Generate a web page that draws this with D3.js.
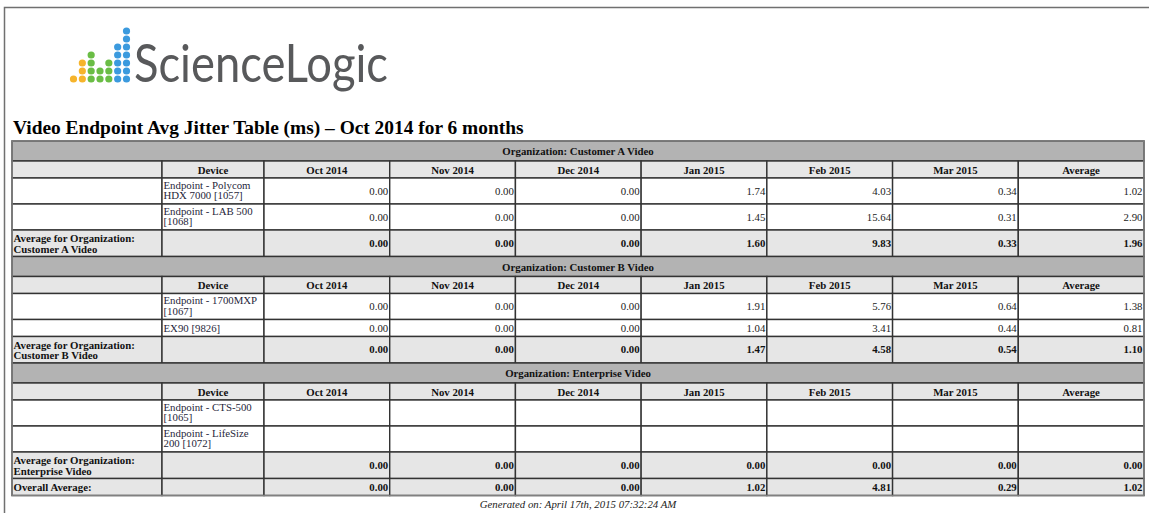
<!DOCTYPE html>
<meta charset="utf-8">
<style>
body { margin: 0; background: #fff; }
svg { display: block; font-family: "Liberation Serif", "Times New Roman", serif; }
</style>
<body>
<script src="https://cdn.jsdelivr.net/npm/d3@7/dist/d3.min.js"></script>
<script>
var width = 1149, height = 513;

// ---- data ----
var title = "Video Endpoint Avg Jitter Table (ms) \u2013 Oct 2014 for 6 months";
var months = ["Oct 2014", "Nov 2014", "Dec 2014", "Jan 2015", "Feb 2015", "Mar 2015"];
var columns = months.concat(["Average"]);
var orgs = ["Customer A Video", "Customer B Video", "Enterprise Video"];
var devices = [
  ["Endpoint - Polycom HDX 7000 [1057]", "Endpoint - LAB 500 [1068]"],
  ["Endpoint - 1700MXP [1067]", "EX90 [9826]"],
  ["Endpoint - CTS-500 [1065]", "Endpoint - LifeSize 200 [1072]"]
];
var deviceValues = [
  [[0, 0, 0, 1.74, 4.03, 0.34, 1.02], [0, 0, 0, 1.45, 15.64, 0.31, 2.90]],
  [[0, 0, 0, 1.91, 5.76, 0.64, 1.38], [0, 0, 0, 1.04, 3.41, 0.44, 0.81]],
  [[null, null, null, null, null, null, null], [null, null, null, null, null, null, null]]
];
var orgAverages = [
  [0, 0, 0, 1.60, 9.83, 0.33, 1.96],
  [0, 0, 0, 1.47, 4.58, 0.54, 1.10],
  [0, 0, 0, 0, 0, 0, 0]
];
var overallAverage = [0, 0, 0, 1.02, 4.81, 0.29, 1.02];
var generatedOn = "Generated on: April 17th, 2015 07:32:24 AM";
var logoName = "ScienceLogic";
var logoDots = [1, 3, 4, 2, 3, 5, 7];

var fmt = d3.format(".2f");

var svg = d3.select("body").append("svg")
    .attr("width", width)
    .attr("height", height);

// page frame
svg.append("path")
    .attr("d", "M4.5," + height + "V7.5H" + width)
    .attr("fill", "none")
    .attr("stroke", "#707070")
    .attr("stroke-width", 1.5);

// ---- logo ----
var dotX = d3.scaleLinear().domain([0, logoDots.length - 1]).range([73.5, 126.5]);
var dotY = d3.scaleLinear().domain([0, 6]).range([79, 31]);
var dotColor = d3.scaleThreshold().domain([2, 5]).range(["#f6b42b", "#6abd45", "#3b9ade"]);

var logo = svg.append("g").attr("class", "logo");
logoDots.forEach(function(n, i) {
  logo.selectAll(null)
    .data(d3.range(n))
    .enter().append("circle")
      .attr("cx", dotX(i))
      .attr("cy", function(d) { return dotY(d); })
      .attr("r", 3.6)
      .attr("fill", dotColor(i));
});
logo.append("text")
    .attr("x", 134)
    .attr("y", 82)
    .attr("font-family", "Lato, 'Open Sans', sans-serif")
    .attr("font-size", 53)
    .attr("textLength", 254)
    .attr("lengthAdjust", "spacingAndGlyphs")
    .attr("fill", "#58595b")
    .text(logoName);

// ---- title ----
svg.append("text")
    .attr("x", 13)
    .attr("y", 134)
    .attr("font-size", 19.4)
    .attr("font-weight", "bold")
    .attr("fill", "#000")
    .text(title);

// ---- table layout ----
var tableLeft = 12, tableRight = 1144, labelRight = 162, deviceRight = 264;
var x = d3.scaleBand().domain(columns).range([deviceRight, tableRight]);
var fontSize = 10.8;

// measure helper for wrapping device names
var measurer = svg.append("text").attr("font-size", fontSize).attr("visibility", "hidden");
function wrap(str, maxW) {
  var words = str.split(" "), lines = [], line = [];
  words.forEach(function(w) {
    var test = line.concat([w]).join(" ");
    measurer.text(test);
    if (line.length && measurer.node().getComputedTextLength() > maxW) {
      lines.push(line.join(" "));
      line = [w];
    } else {
      line.push(w);
    }
  });
  lines.push(line.join(" "));
  return lines;
}

var rows = [];
orgs.forEach(function(org, oi) {
  rows.push({type: "org", h: 20, text: "Organization: " + org});
  rows.push({type: "head", h: 17});
  devices[oi].forEach(function(dev, di) {
    var lines = wrap(dev, 99);
    rows.push({type: "data", h: lines.length > 1 ? 26 : 17, device: lines, values: deviceValues[oi][di]});
  });
  rows.push({type: "avg", h: 26.5, label: ["Average for Organization:", org], values: orgAverages[oi]});
});
rows.push({type: "overall", h: 17, label: ["Overall Average:"], values: overallAverage});
measurer.remove();

var y0 = 141;
rows.forEach(function(r) { r.y = y0; y0 += r.h; });

var table = svg.append("g").attr("font-size", fontSize);
var border = "#333";

function cell(g, x0, x1, y, h, fill) {
  g.append("rect")
    .attr("x", x0).attr("y", y)
    .attr("width", x1 - x0).attr("height", h)
    .attr("fill", fill)
    .attr("stroke", border)
    .attr("stroke-width", 1.4);
}

var rowG = table.selectAll("g.row")
  .data(rows)
  .enter().append("g")
    .attr("class", "row");

rowG.each(function(r) {
  var g = d3.select(this);
  if (r.type === "org") {
    cell(g, tableLeft, tableRight, r.y, r.h, "#b3b3b3");
    g.append("text")
      .attr("x", (tableLeft + tableRight) / 2)
      .attr("y", r.y + 14)
      .attr("text-anchor", "middle")
      .attr("font-weight", "bold")
      .attr("fill", "#111")
      .text(r.text);
    return;
  }
  var fill = r.type === "data" ? "#fff" : "#e6e6e6";
  var bold = r.type !== "data";
  cell(g, tableLeft, labelRight, r.y, r.h, fill);
  cell(g, labelRight, deviceRight, r.y, r.h, fill);
  columns.forEach(function(c) { cell(g, x(c), x(c) + x.bandwidth(), r.y, r.h, fill); });

  if (r.type === "head") {
    g.append("text")
      .attr("x", (labelRight + deviceRight) / 2)
      .attr("y", r.y + 12.5)
      .attr("text-anchor", "middle")
      .attr("font-weight", "bold")
      .attr("fill", "#111")
      .text("Device");
    g.selectAll("text.col")
      .data(columns)
      .enter().append("text")
        .attr("class", "col")
        .attr("x", function(c) { return x(c) + x.bandwidth() / 2; })
        .attr("y", r.y + 12.5)
        .attr("text-anchor", "middle")
        .attr("font-weight", "bold")
        .attr("fill", "#111")
        .text(function(c) { return c; });
    return;
  }

  if (r.device) {
    g.selectAll("text.dev")
      .data(r.device)
      .enter().append("text")
        .attr("class", "dev")
        .attr("x", labelRight + 1.5)
        .attr("y", function(d, i) { return r.y + (r.device.length > 1 ? 10.5 : 12.5) + i * 10.5; })
        .attr("fill", "#1f1f3a")
        .text(function(d) { return d; });
  }
  if (r.label) {
    g.selectAll("text.lab")
      .data(r.label)
      .enter().append("text")
        .attr("class", "lab")
        .attr("x", tableLeft + 1.5)
        .attr("y", function(d, i) { return r.y + (r.label.length > 1 ? 12 : 12.5) + i * 10.5; })
        .attr("font-weight", "bold")
        .attr("fill", "#111")
        .text(function(d) { return d; });
  }
  g.selectAll("text.val")
    .data(r.values.map(function(v, i) { return {col: columns[i], v: v}; }).filter(function(d) { return d.v !== null; }))
    .enter().append("text")
      .attr("class", "val")
      .attr("x", function(d) { return x(d.col) + x.bandwidth() - 1.5; })
      .attr("y", r.y + r.h / 2 + 3.5)
      .attr("text-anchor", "end")
      .attr("font-weight", bold ? "bold" : "normal")
      .attr("fill", bold ? "#111" : "#222")
      .text(function(d) { return fmt(d.v); });
});

// outer border
table.append("rect")
    .attr("x", tableLeft).attr("y", 141)
    .attr("width", tableRight - tableLeft).attr("height", y0 - 141)
    .attr("fill", "none")
    .attr("stroke", "#808080")
    .attr("stroke-width", 1.5);

// footer
svg.append("text")
    .attr("x", (tableLeft + tableRight) / 2)
    .attr("y", 508)
    .attr("text-anchor", "middle")
    .attr("font-size", fontSize)
    .attr("font-style", "italic")
    .attr("fill", "#222")
    .text(generatedOn);
</script>
</body>
